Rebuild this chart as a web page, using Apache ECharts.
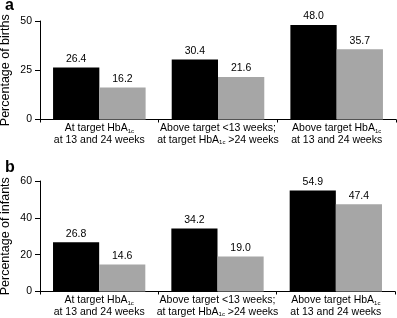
<!DOCTYPE html>
<html>
<head>
<meta charset="utf-8">
<script src="https://cdn.jsdelivr.net/npm/echarts@6/dist/echarts.min.js"></script>
<style>
  html, body { margin: 0; padding: 0; background: #fff; }
  #chart { width: 397px; height: 318px; }
</style>
</head>
<body>
<div id="chart"></div>
<script>
// categories (rich text, subscript 1c)
const categories = [
    '{t|At target HbA}{s|1c}\n{t|at 13 and 24 weeks}',
    '{t|Above target <13 weeks;}\n{t|at target HbA}{s|1c}{t| >24 weeks}',
    '{t|Above target HbA}{s|1c}\n{t|at 13 and 24 weeks}'
];
// panel a - births
const birthsBlack = [26.4, 30.4, 48.0];
const birthsGrey = [16.2, 21.6, 35.7];
// panel b - infants
const infantsBlack = [26.8, 34.2, 54.9];
const infantsGrey = [14.6, 19.0, 47.4];

const font = '"Liberation Sans", Arial, sans-serif';

const chart = echarts.init(document.getElementById('chart'));

const xAxisBase = (gridIndex) => ({
    type: 'category',
    gridIndex: gridIndex,
    data: categories,
    axisLine: { lineStyle: { color: '#000', width: 1 } },
    axisTick: { show: true, length: 3, lineStyle: { color: '#000' } },
    axisLabel: {
        interval: 0,
        margin: 3,
        color: '#000',
        fontFamily: font,
        lineHeight: 11.5,
        rich: {
            t: { fontSize: 10.5, fontFamily: font, color: '#000', lineHeight: 11.5 },
            s: { fontSize: 6, fontFamily: font, color: '#000', verticalAlign: 'bottom', padding: [6, 0, 0, 0] }
        }
    }
});

const yAxisBase = (gridIndex, max, interval, name) => ({
    type: 'value',
    gridIndex: gridIndex,
    min: 0,
    max: max,
    interval: interval,
    name: name,
    nameLocation: 'middle',
    nameRotate: 90,
    nameGap: 28,
    nameMoveOverlap: false,
    nameTextStyle: { fontSize: 12.5, fontFamily: font, color: '#000' },
    axisLine: { show: true, lineStyle: { color: '#000', width: 1 } },
    axisTick: { show: true, length: 5, lineStyle: { color: '#000' } },
    axisLabel: { fontSize: 10.5, fontFamily: font, color: '#000', margin: 8 },
    splitLine: { show: false }
});

const barSeries = (data, color, idx) => ({
    type: 'bar',
    xAxisIndex: idx,
    yAxisIndex: idx,
    data: data,
    barGap: '0%',
    barCategoryGap: '22%',
    itemStyle: { color: color },
    label: {
        show: true,
        position: 'top',
        distance: 3,
        fontSize: 10.5,
        fontFamily: font,
        color: '#000',
        formatter: (p) => p.value.toFixed(1)
    },
    animation: false
});

chart.setOption({
    animation: false,
    title: [
        { text: 'a', left: 0, top: -7, textStyle: { fontSize: 16, fontWeight: 'bold', fontFamily: font, color: '#000' } },
        { text: 'b', left: 0, top: 155, textStyle: { fontSize: 16, fontWeight: 'bold', fontFamily: font, color: '#000' } }
    ],
    grid: [
        { left: 40, right: 1, top: 21, height: 98.5, outerBoundsMode: 'none' },
        { left: 40, right: 2, top: 181, height: 110.5, outerBoundsMode: 'none' }
    ],
    xAxis: [xAxisBase(0), xAxisBase(1)],
    yAxis: [
        yAxisBase(0, 50, 25, 'Percentage of births'),
        yAxisBase(1, 60, 20, 'Percentage of infants')
    ],
    series: [
        barSeries(birthsBlack, '#000000', 0),
        barSeries(birthsGrey, '#a6a6a6', 0),
        barSeries(infantsBlack, '#000000', 1),
        barSeries(infantsGrey, '#a6a6a6', 1)
    ]
});
</script>
</body>
</html>
